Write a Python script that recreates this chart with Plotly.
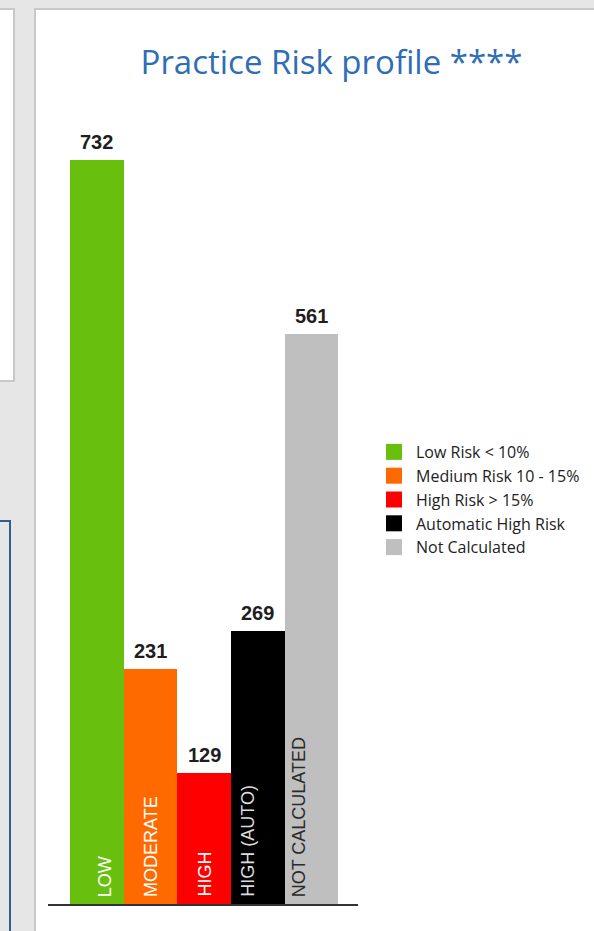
import plotly.graph_objects as go

# ---- data ----
categories = ["LOW", "MODERATE", "HIGH", "HIGH (AUTO)", "NOT CALCULATED"]
values = [732, 231, 129, 269, 561]
legend_names = ["Low Risk < 10%", "Medium Risk 10 - 15%", "High Risk > 15%",
                "Automatic High Risk", "Not Calculated"]
colors = ["#68bf0e", "#ff6a00", "#ff0000", "#000000", "#bfbfbf"]
label_colors = ["#ffffff", "#ffffff", "#ffffff", "#dcdcdc", "#2a2a2a"]
label_xshift = [8, 0, 0, -10, -12]
title_text = "Practice Risk profile ****"

W, H = 594, 931

fig = go.Figure()

fig.add_trace(go.Bar(
    x=categories, y=values,
    marker=dict(color=colors, line=dict(width=0)),
    showlegend=False, hoverinfo="skip",
))

# legend proxies (square swatches)
for i, (nm, c) in enumerate(zip(legend_names, colors)):
    fig.add_trace(go.Scatter(
        x=[None], y=[None], mode="markers", name=nm, legendgroup=f"g{i}",
        marker=dict(symbol="square", size=16, color=c),
    ))

annotations = []
for i, (cat, v) in enumerate(zip(categories, values)):
    # value label above bar
    annotations.append(dict(
        x=cat, y=v, xref="x", yref="y", text=str(v), showarrow=False,
        xanchor="center", yanchor="bottom", yshift=5,
        font=dict(family="Liberation Sans, Arial", size=20, color="#1e1e1e", weight="bold"),
    ))
    # rotated category label inside bar
    annotations.append(dict(
        x=cat, y=0, xref="x", yref="y", text=cat, showarrow=False,
        textangle=-90, xanchor="center", yanchor="bottom", yshift=5,
        xshift=label_xshift[i],
        font=dict(family="Liberation Sans, Arial", size=18, color=label_colors[i]),
    ))

px = lambda v: v / W
py = lambda v: 1 - v / H

shapes = [
    dict(type="rect", xref="paper", yref="paper", layer="below",
         x0=px(35), x1=px(600), y0=py(940), y1=py(9),
         fillcolor="white", line=dict(color="#c8c8c8", width=2)),
    dict(type="rect", xref="paper", yref="paper", layer="below",
         x0=px(-10), x1=px(14), y0=py(381), y1=py(9),
         fillcolor="white", line=dict(color="#c8c8c8", width=2)),
    dict(type="rect", xref="paper", yref="paper", layer="below",
         x0=px(-10), x1=px(10), y0=py(940), y1=py(521),
         fillcolor="rgba(0,0,0,0)", line=dict(color="#2f5f8c", width=2)),
]

fig.update_layout(
    width=W, height=H,
    margin=dict(l=0, r=0, t=0, b=0),
    paper_bgcolor="#e6e6e6", plot_bgcolor="rgba(0,0,0,0)",
    bargap=0,
    title=dict(text=title_text, x=331.5 / W, xanchor="center", y=py(62), yanchor="middle",
               font=dict(family="Open Sans", size=33, color="#2f6db5")),
    xaxis=dict(domain=[px(48), px(358)], range=[-0.91, 4.87], showticklabels=False,
               showline=True, linecolor="#333333", linewidth=2, showgrid=False,
               zeroline=False, ticks="", fixedrange=True),
    yaxis=dict(domain=[py(904), py(110)], range=[0, (904 - 110) / 1.0164],
               visible=False, showgrid=False, zeroline=False, fixedrange=True),
    legend=dict(x=px(372), xanchor="left", y=py(435), yanchor="top",
                font=dict(family="Open Sans", size=16, color="#222222"),
                bgcolor="rgba(0,0,0,0)", tracegroupgap=0, itemwidth=34,
                itemclick=False),
    showlegend=True,
    annotations=annotations,
    shapes=shapes,
)

fig.write_html("out.html")
